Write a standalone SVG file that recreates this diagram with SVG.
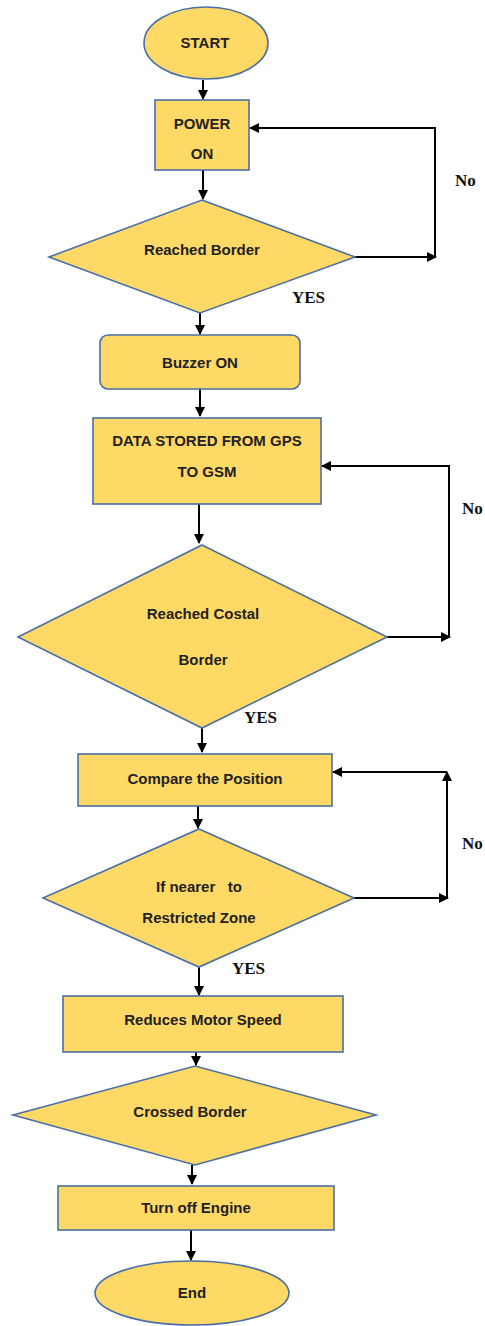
<svg xmlns="http://www.w3.org/2000/svg" width="485" height="1326" viewBox="0 0 485 1326">
<style>
.n{fill:#FFD966;stroke:#4A6FA5;stroke-width:1.6}
.t{font-family:"Liberation Sans",Arial,sans-serif;font-weight:bold;font-size:15px;fill:#222;text-anchor:middle}
.l{font-family:"Liberation Serif","Times New Roman",serif;font-weight:bold;font-size:17px;fill:#111}
.c{fill:none;stroke:#000;stroke-width:2}
.a{marker-end:url(#ah)}
</style>
<defs>
<marker id="ah" viewBox="0 0 10 10" refX="9" refY="5" markerWidth="5" markerHeight="5" orient="auto" markerUnits="strokeWidth">
<path d="M0,0 L10,5 L0,10 z" fill="#000"/>
</marker>
</defs>
<rect width="485" height="1326" fill="#fff"/>
<g id="connectors">
<path class="c a" d="M203,80 V99"/>
<path class="c a" d="M203,170 V199"/>
<path class="c a" d="M355,257 H436"/>
<path class="c a" d="M435,257 V128 H250"/>
<path class="c a" d="M200,313 V334"/>
<path class="c a" d="M200,389 V416"/>
<path class="c a" d="M199,504 V543"/>
<path class="c a" d="M387,637 H450"/>
<path class="c a" d="M449,637 V466 H322"/>
<path class="c a" d="M202,728 V752"/>
<path class="c a" d="M198,806 V828"/>
<path class="c a" d="M354,898 H448"/>
<path class="c a" d="M447,898 V772"/>
<path class="c a" d="M447,772 H333"/>
<path class="c a" d="M199,967 V995"/>
<path class="c a" d="M196,1052 V1065"/>
<path class="c a" d="M192,1165 V1184"/>
<path class="c a" d="M191,1230 V1260"/>
<text class="l" x="455" y="186">No</text>
<text class="l" x="292" y="303">YES</text>
<text class="l" x="462" y="514">No</text>
<text class="l" x="244" y="723">YES</text>
<text class="l" x="462" y="849">No</text>
<text class="l" x="232" y="974">YES</text>
</g>
<g id="start"><ellipse class="n" cx="206" cy="43" rx="62" ry="36"/><text class="t" x="205" y="48">START</text></g>
<g id="power"><rect class="n" x="155" y="100" width="94" height="70"/><text class="t" x="202" y="129">POWER</text><text class="t" x="202" y="159">ON</text></g>
<g id="reached-border"><polygon class="n" points="202,200 355,257 200,313 49,257"/><text class="t" x="202" y="255">Reached Border</text></g>
<g id="buzzer"><rect class="n" x="100" y="335" width="200" height="54" rx="8"/><text class="t" x="200" y="368">Buzzer ON</text></g>
<g id="data"><rect class="n" x="93" y="418" width="228" height="86"/><text class="t" x="207" y="446">DATA STORED FROM GPS</text><text class="t" x="207" y="477">TO GSM</text></g>
<g id="reached-costal"><polygon class="n" points="202,545 387,637 202,728 18,637"/><text class="t" x="203" y="619">Reached Costal</text><text class="t" x="203" y="665">Border</text></g>
<g id="compare"><rect class="n" x="78" y="754" width="254" height="52"/><text class="t" x="205" y="784">Compare the Position</text></g>
<g id="nearer"><polygon class="n" points="199,829 354,898 199,967 43,898"/><text class="t" x="199" y="892" xml:space="preserve">If nearer   to</text><text class="t" x="199" y="923">Restricted Zone</text></g>
<g id="reduces"><rect class="n" x="63" y="996" width="280" height="56"/><text class="t" x="203" y="1025">Reduces Motor Speed</text></g>
<g id="crossed"><polygon class="n" points="195,1066 376,1115 195,1165 13,1115"/><text class="t" x="190" y="1117">Crossed Border</text></g>
<g id="turnoff"><rect class="n" x="58" y="1186" width="276" height="44"/><text class="t" x="196" y="1213">Turn off Engine</text></g>
<g id="end"><ellipse class="n" cx="192" cy="1293" rx="97" ry="32"/><text class="t" x="192" y="1298">End</text></g>
</svg>
